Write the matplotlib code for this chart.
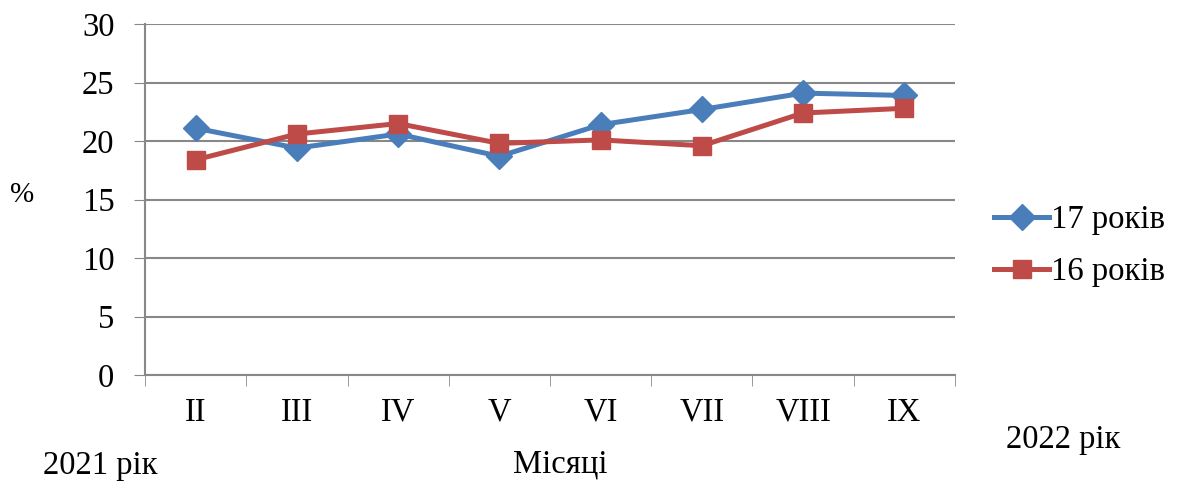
import matplotlib.pyplot as plt

months = ['II', 'III', 'IV', 'V', 'VI', 'VII', 'VIII', 'IX']
age17 = [21.1, 19.4, 20.6, 18.7, 21.4, 22.7, 24.1, 23.9]
age16 = [18.4, 20.6, 21.5, 19.8, 20.1, 19.6, 22.4, 22.8]

plt.rcParams['font.family'] = ['Liberation Serif', 'DejaVu Serif']

fig = plt.figure(figsize=(11.79, 4.82), dpi=100)
ax = fig.add_axes([0.123, 0.222, 0.687, 0.728])

x = list(range(len(months)))
ax.plot(x, age17, color='#4A7EBB', lw=3.6, marker='D', markersize=13, label='17 років')
ax.plot(x, age16, color='#BE4B48', lw=3.6, marker='s', markersize=13, label='16 років')

ax.set_xlim(-0.5, len(months) - 0.5)
ax.set_ylim(0, 30)
ax.set_yticks(range(0, 31, 5))
ax.set_xticks(x)
ax.set_xticklabels(months)
ax.set_xticks([i - 0.5 for i in range(len(months) + 1)], minor=True)
ax.tick_params(axis='x', which='major', length=0, pad=16, labelsize=23.5)
ax.tick_params(axis='x', which='minor', length=8, color='#888888', direction='out')
ax.tick_params(axis='y', length=8, color='#888888', labelsize=23.5, pad=14)

ax.grid(axis='y', color='#888888', lw=1.5)
for s in ['top', 'right']:
    ax.spines[s].set_visible(False)
for s in ['left', 'bottom']:
    ax.spines[s].set_color('#888888')
    ax.spines[s].set_linewidth(1.5)

fig.text(22 / 1179, 1 - 195 / 482, '%', fontsize=21, ha='center', va='center')
fig.text(100 / 1179, 1 - 466 / 482, '2021 рік', fontsize=23.5, ha='center', va='center')
fig.text(560 / 1179, 1 - 464 / 482, 'Місяці', fontsize=23.5, ha='center', va='center')
fig.text(1063 / 1179, 1 - 440 / 482, '2022 рік', fontsize=23.5, ha='center', va='center')

ax.legend(loc='center left', bbox_to_anchor=(0.843, 0.49), bbox_transform=fig.transFigure,
          frameon=False, fontsize=23.5, handlelength=1.7, handletextpad=0.05, labelspacing=0.65,
          borderaxespad=0, borderpad=0)

fig.savefig('out.png', dpi=100)
